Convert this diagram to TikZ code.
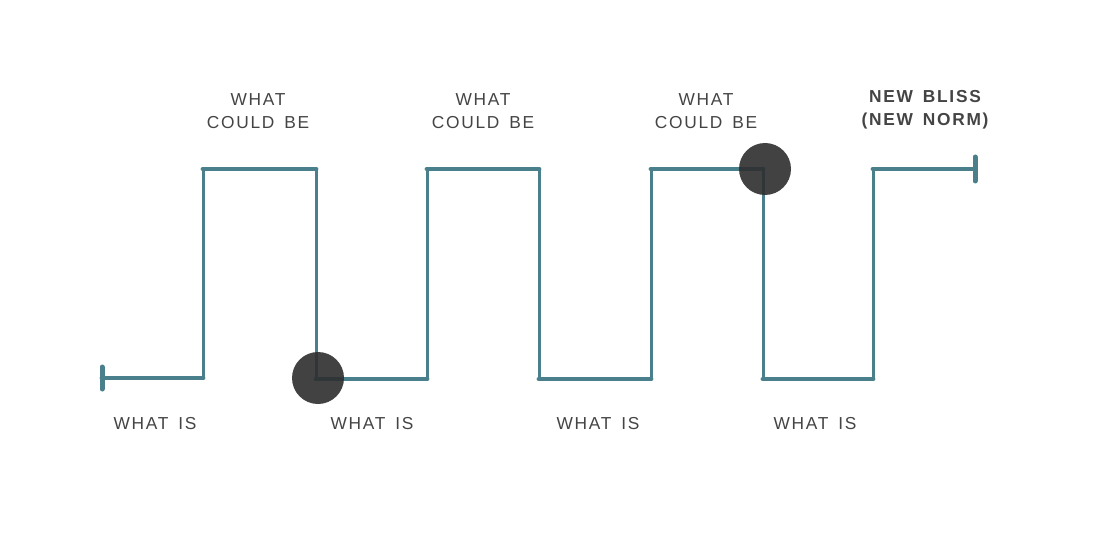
\documentclass[tikz,border=0pt]{standalone}
\usepackage{fontspec}
\newfontfamily\lsfont[LetterSpace=10,WordSpace=1.5]{Liberation Sans}
\definecolor{wave}{HTML}{4A7F8C}
\definecolor{txt}{HTML}{444444}
\definecolor{dot}{HTML}{2E2E2E}
\begin{document}
\begin{tikzpicture}[x=0.75pt,y=-0.75pt,
  hline/.style={draw=wave,line width=4.8pt*0.75,line cap=round},
  vline/.style={draw=wave,line width=3pt*0.75},
  tick/.style={draw=wave,line width=5pt*0.75,line cap=round},
  lbl/.style={text=txt,font=\lsfont\fontsize{13pt}{17.3pt}\selectfont,align=center,inner sep=0pt},
  blbl/.style={lbl,font=\lsfont\bfseries\fontsize{13pt}{17.3pt}\selectfont},
  marker/.style={circle,fill=dot,fill opacity=0.9,minimum size=39pt,inner sep=0pt}]
\useasboundingbox (0,0) rectangle (1098,538);
% corner coordinates
\coordinate (s) at (102,378);
\coordinate (a1) at (203,378); \coordinate (a2) at (203,169);
\coordinate (b1) at (316,169); \coordinate (b2) at (316,379);
\coordinate (c1) at (427,379); \coordinate (c2) at (427,169);
\coordinate (d1) at (539,169); \coordinate (d2) at (539,379);
\coordinate (e1) at (651,379); \coordinate (e2) at (651,169);
\coordinate (f1) at (763,169); \coordinate (f2) at (763,379);
\coordinate (g1) at (873,379); \coordinate (g2) at (873,169);
\coordinate (t) at (975,169);
\coordinate (st) at (102,367); \coordinate (sb) at (102,389);
\coordinate (tt) at (975,157); \coordinate (tb) at (975,181);
% verticals
\foreach \p/\q in {a1/a2,b1/b2,c1/c2,d1/d2,e1/e2,f1/f2,g1/g2}
  \draw[vline] (\p) -- (\q);
% horizontals
\foreach \p/\q in {s/a1,a2/b1,b2/c1,c2/d1,d2/e1,e2/f1,f2/g1,g2/t}
  \draw[hline] (\p) -- (\q);
\draw[tick] (st) -- (sb);
\draw[tick] (tt) -- (tb);
% markers
\node[marker] (m1) at (318,378) {};
\node[marker] (m2) at (765,169) {};
% labels
\node[lbl] (w1) at (155,424) {WHAT IS};
\node[lbl] (w2) at (372,424) {WHAT IS};
\node[lbl] (w3) at (598,424) {WHAT IS};
\node[lbl] (w4) at (815,424) {WHAT IS};
\node[lbl] (c1l) at (258,111) {WHAT\\COULD BE};
\node[lbl] (c2l) at (483,111) {WHAT\\COULD BE};
\node[lbl] (c3l) at (706,111) {WHAT\\COULD BE};
\node[blbl] (nb) at (925,110) {NEW BLISS\\(NEW NORM)};
\end{tikzpicture}
\end{document}
